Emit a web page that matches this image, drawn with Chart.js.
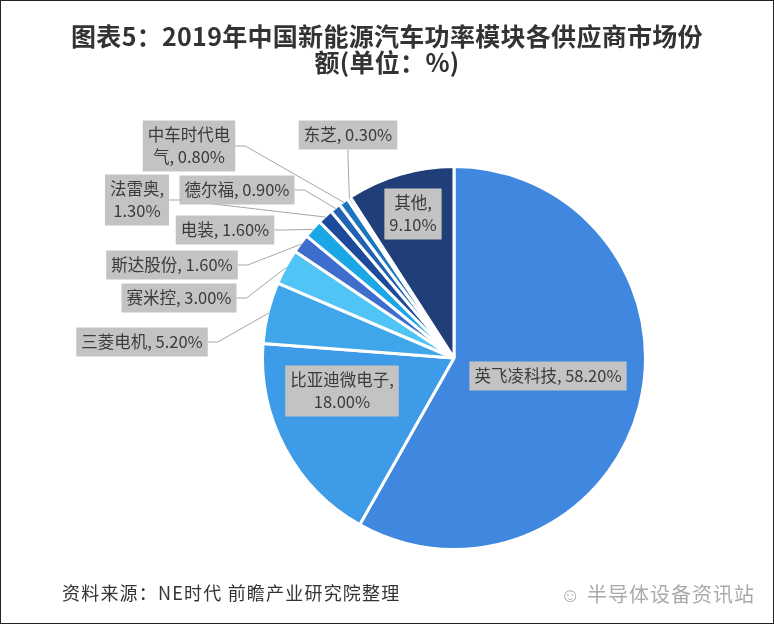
<!DOCTYPE html>
<html lang="zh-CN">
<head>
  <meta charset="UTF-8">
  <title>2019年中国新能源汽车功率模块各供应商市场份额</title>
  <script src="https://cdn.jsdelivr.net/npm/chart.js"></script>
  <style>
    html, body { margin: 0; padding: 0; background: #fff; }
    .frame {
      position: relative;
      width: 772px;
      height: 622px;
      border: 1px solid #222;
      overflow: hidden;
      font-family: "Noto Sans CJK SC", sans-serif;
    }
    .frame canvas { position: absolute; left: 0; top: 0; }
    h1 {
      position: absolute;
      top: 21px; left: 0; right: 0;
      margin: 0;
      text-align: center;
      font-size: 25px;
      line-height: 26px;
      font-weight: bold;
      color: #333;
      letter-spacing: 0.3px;
    }
    .source {
      position: absolute;
      left: 61px; top: 578px;
      font-size: 18px;
      letter-spacing: 1.2px;
      color: #333;
    }
    .mark {
      position: absolute;
      right: 18px; top: 578px;
      font-size: 20px;
      letter-spacing: 1px;
      color: #aaa;
    }
  </style>
</head>
<body>
  <div class="frame">
    <canvas id="pie" width="772" height="622"></canvas>
    <h1>图表5：2019年中国新能源汽车功率模块各供应商市场份<br>额(单位：%)</h1>
    <div class="source">资料来源：NE时代 前瞻产业研究院整理</div>
    <div class="mark">☺ 半导体设备资讯站</div>
  </div>

  <script>
    // data, clockwise from 12 o'clock
    const suppliers = ['英飞凌科技', '比亚迪微电子', '三菱电机', '赛米控', '斯达股份', '电装',
                       '法雷奥', '德尔福', '中车时代电气', '东芝', '其他'];
    const shares = [58.2, 18.0, 5.2, 3.0, 1.6, 1.6, 1.3, 0.9, 0.8, 0.3, 9.1];
    const sliceColors = ['#3f87df', '#3e9be7', '#3fa6ec', '#4fc4f5', '#3d6ecd', '#1ba7e6',
                         '#1d4a9a', '#2163b2', '#1a76bd', '#8fb6e2', '#203f79'];

    // label layout (canvas px): box centre, line break index, leader side
    const labelPos = [[547, 375], [341, 390], [141, 341], [178, 297], [171, 264], [224, 229],
                      [136, 199], [236, 189], [188, 145], [347, 134], [412, 213]];
    const labelBreak = [0, 7, 0, 0, 0, 0, 4, 0, 5, 0, 3];
    const leaderSide = ['', '', 'right', 'right', 'right', 'right', 'right', 'right', 'right', 'bottom', ''];

    const labelPlugin = {
      id: 'boxLabels',
      afterDatasetsDraw(chart) {
        const ctx = chart.ctx;
        const arcs = chart.getDatasetMeta(0).data;
        ctx.save();
        ctx.font = '16.5px "Noto Sans CJK SC", sans-serif';
        ctx.textAlign = 'center';
        ctx.textBaseline = 'middle';
        arcs.forEach((arc, i) => {
          const full = suppliers[i] + ', ' + shares[i].toFixed(2) + '%';
          const lines = labelBreak[i] ? [full.slice(0, labelBreak[i]).trim(), full.slice(labelBreak[i]).trim()] : [full];
          const lh = 22;
          const w = Math.max(...lines.map(t => ctx.measureText(t).width)) + 10;
          const h = lines.length * lh + 7;
          const [cx, cy] = labelPos[i];

          // leader line to slice edge
          if (leaderSide[i]) {
            const p = arc.getProps(['x', 'y', 'startAngle', 'endAngle', 'outerRadius'], true);
            const mid = (p.startAngle + p.endAngle) / 2;
            const ex = p.x + Math.cos(mid) * (p.outerRadius - 1);
            const ey = p.y + Math.sin(mid) * (p.outerRadius - 1);
            ctx.strokeStyle = '#a6a6a6';
            ctx.lineWidth = 1;
            ctx.beginPath();
            if (leaderSide[i] === 'bottom') {
              ctx.moveTo(cx, cy + h / 2);
              ctx.lineTo(cx, cy + h / 2 + 8);
            } else {
              ctx.moveTo(cx + w / 2, cy);
              ctx.lineTo(cx + w / 2 + 10, cy);
            }
            ctx.lineTo(ex, ey);
            ctx.stroke();
          }

          ctx.fillStyle = '#c3c3c3';
          ctx.fillRect(cx - w / 2, cy - h / 2, w, h);
          ctx.fillStyle = '#3b3b3b';
          lines.forEach((t, k) => {
            ctx.fillText(t, cx, cy - (lines.length - 1) * lh / 2 + k * lh);
          });
        });
        ctx.restore();
      }
    };

    new Chart(document.getElementById('pie'), {
      type: 'pie',
      data: {
        labels: suppliers,
        datasets: [{
          data: shares,
          backgroundColor: sliceColors,
          borderColor: '#ffffff',
          borderWidth: 3
        }]
      },
      options: {
        responsive: false,
        animation: false,
        layout: { padding: { left: 260, right: 126, top: 164, bottom: 72 } },
        plugins: {
          legend: { display: false },
          tooltip: { enabled: false }
        }
      },
      plugins: [labelPlugin]
    });
  </script>
</body>
</html>
